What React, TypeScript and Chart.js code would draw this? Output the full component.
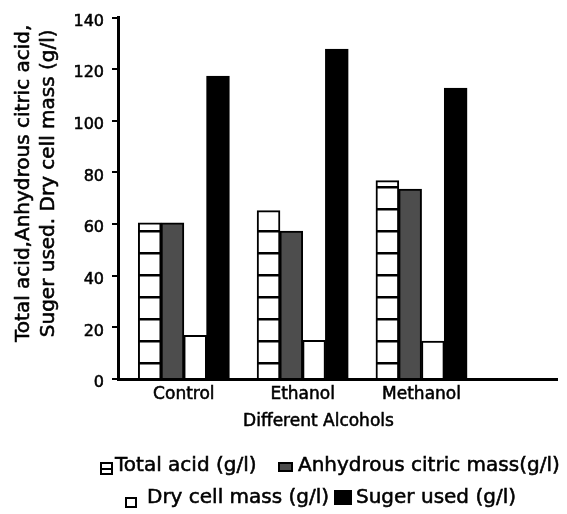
import React, { useEffect, useRef } from 'react';
import { Chart, registerables } from 'chart.js';

Chart.register(...registerables);

// ---- data ----
const categories = ['Control', 'Ethanol', 'Methanol'];
const totalAcid = [60.5, 65.2, 76.8];
const anhydrousCitric = [60.5, 57.3, 73.5];
const dryCellMass = [16.9, 15.0, 14.7];
const sugarUsed = [117.3, 127.8, 112.7];
const yTickValues = [0, 20, 40, 60, 80, 100, 120, 140];
const seriesLabels = ['Total acid (g/l)', 'Anhydrous citric mass(g/l)', 'Dry cell mass (g/l)', 'Suger used (g/l)'];
const xTitle = 'Different Alcohols';
const yTitleLines = ['Total acid,Anhydrous citric acid,', 'Suger used. Dry cell mass (g/l)'];

// ---- layout ----
const W = 567;
const H = 514;
const GROUP_OFFSET = 0.554;
const X_MAX = 3.694;
const FONT = '"DejaVu Sans", "Liberation Sans", Arial, sans-serif';
const STROKE = 0.55;

const legendLayout = [
  { left: 100, top: 462, w: 13, h: 13, textLeft: 115, textTop: 452, kind: 'stripe' },
  { left: 278, top: 462, w: 15, h: 10, textLeft: 298, textTop: 452, kind: 'gray' },
  { left: 125, top: 497, w: 12, h: 11, textLeft: 147, textTop: 484, kind: 'white' },
  { left: 334, top: 490, w: 18, h: 15, textLeft: 356, textTop: 484, kind: 'black' },
];

function makeStripePattern(ctx: CanvasRenderingContext2D) {
  const c = document.createElement('canvas');
  c.width = 8;
  c.height = 22;
  const g = c.getContext('2d')!;
  g.fillStyle = '#ffffff';
  g.fillRect(0, 0, 8, 22);
  g.fillStyle = '#000000';
  g.fillRect(0, 10, 8, 2.5);
  return ctx.createPattern(c, 'repeat');
}

function drawText(ctx: CanvasRenderingContext2D, text: string, x: number, y: number) {
  ctx.strokeText(text, x, y);
  ctx.fillText(text, x, y);
}

const titlesPlugin = {
  id: 'axisTitlesCustom',
  afterDraw(chart: any) {
    const { ctx, chartArea } = chart;
    ctx.save();
    ctx.fillStyle = '#000';
    ctx.strokeStyle = '#000';
    ctx.lineWidth = STROKE;
    ctx.lineJoin = 'round';
    ctx.textAlign = 'center';
    ctx.textBaseline = 'alphabetic';
    ctx.font = `17px ${FONT}`;
    drawText(ctx, xTitle, chartArea.left + 200.5, chartArea.bottom + 47);
    ctx.font = `20px ${FONT}`;
    const cy = (chartArea.top + chartArea.bottom) / 2 - 15;
    ctx.translate(0, cy);
    ctx.rotate(-Math.PI / 2);
    yTitleLines.forEach((line, i) => {
      drawText(ctx, line, 0, chartArea.left - 89 + i * 25);
    });
    ctx.restore();
  },
};

export default function App() {
  const ref = useRef<HTMLCanvasElement | null>(null);

  useEffect(() => {
    const canvas = ref.current!;
    const ctx = canvas.getContext('2d')!;
    const stripe = makeStripePattern(ctx);
    const pts = (vals: number[]) => vals.map((v, i) => ({ x: i + GROUP_OFFSET, y: v }));

    const common = {
      borderColor: '#000000',
      borderWidth: 2,
      categoryPercentage: 0.766,
      barPercentage: 1,
      inflateAmount: 0.4,
    };

    const chart = new Chart(ctx, {
      type: 'bar',
      data: {
        datasets: [
          { label: seriesLabels[0], data: pts(totalAcid), backgroundColor: stripe as any, ...common },
          { label: seriesLabels[1], data: pts(anhydrousCitric), backgroundColor: '#4d4d4d', ...common },
          { label: seriesLabels[2], data: pts(dryCellMass), backgroundColor: '#ffffff', ...common },
          { label: seriesLabels[3], data: pts(sugarUsed), backgroundColor: '#000000', ...common },
        ],
      },
      options: {
        responsive: false,
        animation: false,
        devicePixelRatio: 1,
        barPercentage: 1,
        categoryPercentage: 0.766,
        datasets: { bar: { barPercentage: 1, categoryPercentage: 0.766 } },
        layout: { padding: { left: 0, right: 10, top: 15, bottom: 0 } },
        plugins: {
          legend: { display: false },
          tooltip: { enabled: false },
          title: { display: false },
        },
        scales: {
          x: {
            type: 'linear',
            offset: false,
            min: 0,
            max: X_MAX,
            grid: { display: false, drawTicks: false, offset: false },
            border: { display: true, color: '#000', width: 3 },
            afterBuildTicks: (scale: any) => {
              scale.ticks = categories.map((_, i) => ({ value: i + GROUP_OFFSET }));
            },
            afterFit: (scale: any) => {
              scale.height = H - 379;
            },
            ticks: {
              autoSkip: false,
              maxRotation: 0,
              padding: 5,
              color: '#000',
              textStrokeColor: '#000',
              textStrokeWidth: STROKE,
              font: { family: FONT, size: 17 },
              callback: (_v: any, i: number) => categories[i],
            },
          },
          y: {
            type: 'linear',
            min: 0,
            max: 140,
            afterBuildTicks: (scale: any) => {
              scale.ticks = yTickValues.map((v) => ({ value: v }));
            },
            afterFit: (scale: any) => {
              scale.width = 118;
            },
            grid: { drawOnChartArea: false, drawTicks: true, tickLength: 6, color: '#000', lineWidth: 2 },
            border: { display: true, color: '#000', width: 3 },
            ticks: {
              padding: 8,
              labelOffset: 4,
              color: '#000',
              textStrokeColor: '#000',
              textStrokeWidth: STROKE,
              font: { family: FONT, size: 16 },
            },
          },
        },
      } as any,
      plugins: [titlesPlugin],
    });
    return () => chart.destroy();
  }, []);

  const swatchStyle = (kind: string): React.CSSProperties => {
    switch (kind) {
      case 'stripe':
        return {
          background: 'linear-gradient(#000,#000) center / 100% 2px no-repeat, #fff',
          border: '2px solid #000',
        };
      case 'gray':
        return { background: '#4d4d4d', border: '2px solid #000' };
      case 'white':
        return { background: '#fff', border: '2px solid #000' };
      default:
        return { background: '#000' };
    }
  };

  return (
    <div style={{ position: 'fixed', left: 0, top: 0, width: W, height: H, background: '#fff' }}>
      <canvas ref={ref} width={W} height={H} style={{ display: 'block', width: W, height: H }} />
      {legendLayout.map((item, i) => (
        <React.Fragment key={i}>
          <div
            style={{
              position: 'absolute',
              left: item.left,
              top: item.top,
              width: item.w,
              height: item.h,
              boxSizing: 'border-box',
              ...swatchStyle(item.kind),
            }}
          />
          <div
            style={{
              position: 'absolute',
              left: item.textLeft,
              top: item.textTop,
              fontFamily: FONT,
              fontSize: 20,
              lineHeight: '24px',
              color: '#000',
              whiteSpace: 'nowrap',
              WebkitTextStroke: `${STROKE}px #000`,
            }}
          >
            {seriesLabels[i]}
          </div>
        </React.Fragment>
      ))}
    </div>
  );
}
